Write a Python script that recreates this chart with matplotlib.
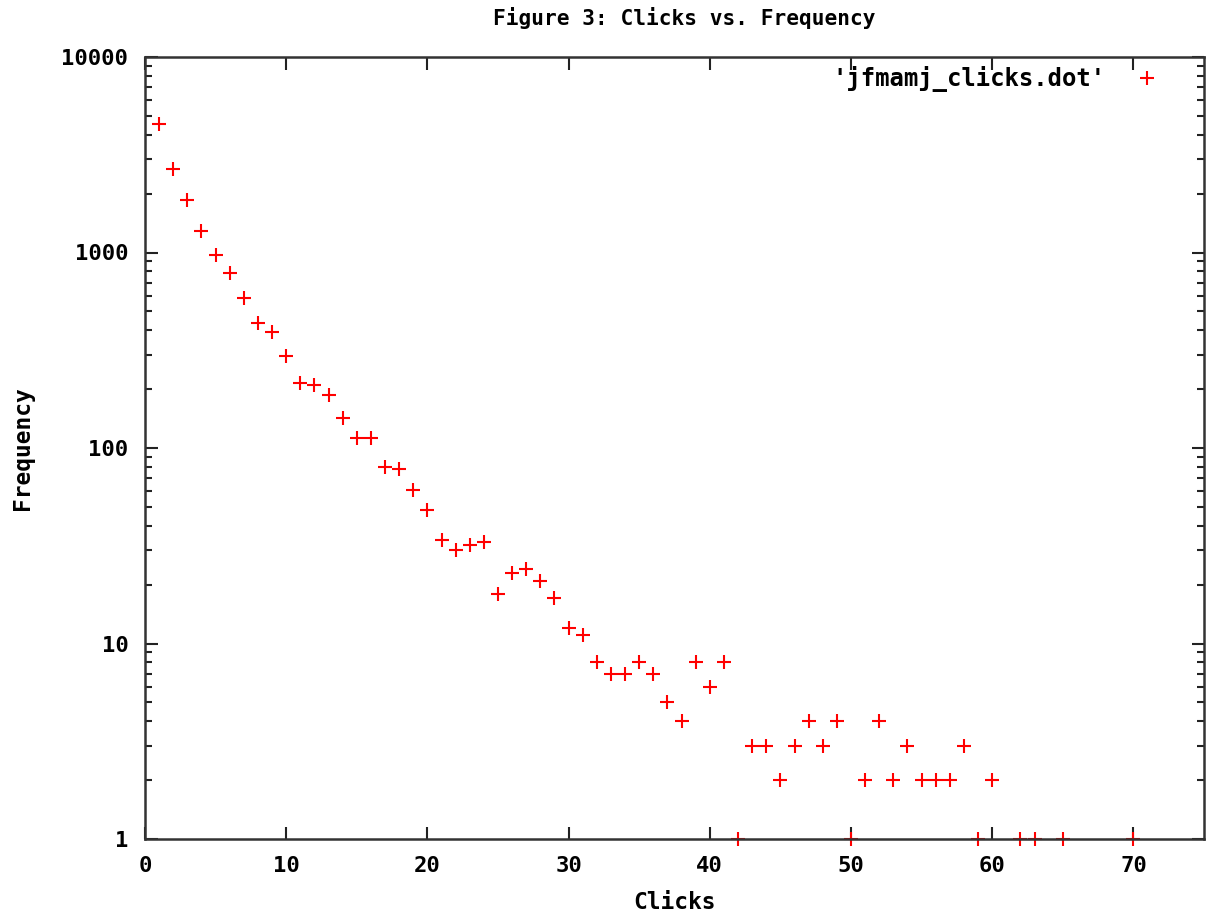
import numpy as np
import matplotlib.pyplot as plt

# Clicks vs. Frequency data
clicks = [1, 2, 3, 4, 5, 6, 7, 8, 9, 10,
          11, 12, 13, 14, 15, 16, 17, 18, 19, 20,
          21, 22, 23, 24, 25, 26, 27, 28, 29, 30,
          31, 32, 33, 34, 35, 36, 37, 38, 39, 40,
          41, 42, 43, 44, 45, 46, 47, 48, 49, 50,
          51, 52, 53, 54, 55, 56, 57, 58, 59, 60,
          62, 63, 65, 70]
freq = [4540, 2670, 1850, 1290, 970, 785, 585, 435, 390, 296,
        215, 210, 187, 142, 112, 112, 80, 78, 61, 48,
        34, 30, 32, 33, 18, 23, 24, 21, 17, 12,
        11, 8, 7, 7, 8, 7, 5, 4, 8, 6,
        8, 1, 3, 3, 2, 3, 4, 3, 4, 1,
        2, 4, 2, 3, 2, 2, 2, 3, 1, 2,
        1, 1, 1, 1]

plt.rcParams['font.family'] = ['DejaVu Sans Mono']
plt.rcParams['font.weight'] = 'bold'

fig = plt.figure(figsize=(12.06, 9.19), dpi=100)
ax = fig.add_axes([145 / 1206, 1 - 839 / 919, (1204 - 145) / 1206, (839 - 57) / 919])

ax.plot(clicks, freq, linestyle='none', marker='+', color='#ff0000',
        markersize=10, markeredgewidth=1.5, clip_on=False,
        label="'jfmamj_clicks.dot'")

ax.set_yscale('log')
ax.set_xlim(0, 75)
ax.set_ylim(1, 10000)
ax.set_xticks(range(0, 71, 10))
ax.set_yticks([1, 10, 100, 1000, 10000])
ax.set_yticklabels(['1', '10', '100', '1000', '10000'])

ax.tick_params(which='both', direction='in', top=True, right=True,
               labelsize=16, color='#222222', width=1.5)
ax.tick_params(which='major', length=9, pad=12)
ax.tick_params(which='minor', length=5)
ax.minorticks_on()
ax.xaxis.set_minor_locator(plt.NullLocator())
ax.yaxis.set_minor_formatter(plt.NullFormatter())
for s in ax.spines.values():
    s.set_linewidth(1.8)
    s.set_color('#333333')

ax.set_xlabel('Clicks', fontsize=16.5, fontweight='bold', labelpad=11)
ax.set_ylabel('Frequency', fontsize=16.5, fontweight='bold', labelpad=20)
fig.text(684 / 1206, 1 - 18 / 919, 'Figure 3: Clicks vs. Frequency', fontsize=15.2,
         fontweight='bold', ha='center', va='center')

ax.legend(loc='upper right', bbox_to_anchor=(0.967, 0.994), frameon=False,
          markerfirst=False, fontsize=17.2, handlelength=1.45,
          handletextpad=1.0, borderaxespad=0, borderpad=0.2)

fig.savefig('out.png', dpi=100)
